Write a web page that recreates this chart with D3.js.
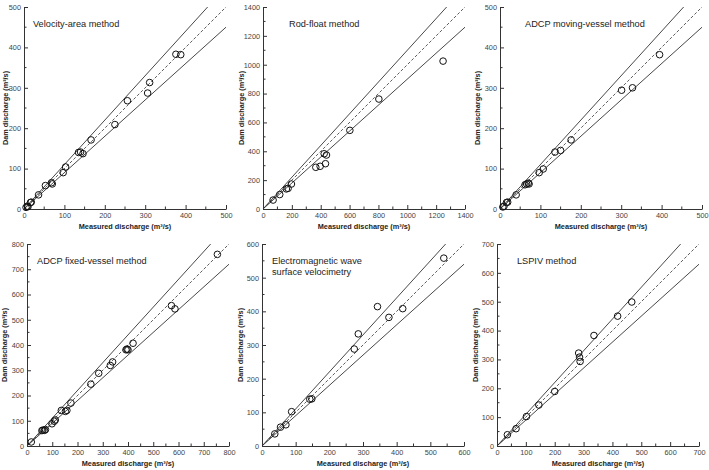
<!DOCTYPE html>
<html>
<head>
<meta charset="utf-8">
<script src="https://cdn.jsdelivr.net/npm/d3@7/dist/d3.min.js"></script>
<style>
  body { margin: 0; background: #fff; }
  svg { display: block; font-family: "Liberation Sans", Arial, sans-serif; }
</style>
</head>
<body>
<div id="chart"></div>
<script>
// panel titles (one entry per line)
const titles = [
    ["Velocity-area method"],
    ["Rod-float method"],
    ["ADCP moving-vessel method"],
    ["ADCP fixed-vessel method"],
    ["Electromagnetic wave", "surface velocimetry"],
    ["LSPIV method"]
];

const axisMax = [500, 1400, 500, 800, 600, 700];
const majorStep = [100, 200, 100, 100, 100, 100];

// [measured, dam] discharge pairs, m3/s
const velocityArea = [
    [5, 4], [8, 7], [10, 6], [16, 16], [18, 17], [36, 35], [53, 58], [68, 65], [70, 62],
    [97, 90], [103, 104], [135, 140], [140, 141], [146, 137], [166, 171], [225, 209],
    [256, 268], [306, 287], [311, 313], [376, 383], [388, 382]
];
const rodFloat = [
    [70, 62], [116, 100], [162, 139], [174, 143], [197, 173], [366, 289], [396, 296],
    [424, 383], [440, 374], [433, 314], [602, 545], [803, 762], [1248, 1025]
];
const adcpMoving = [
    [7, 5], [10, 7], [16, 16], [19, 17], [40, 35], [62, 60], [66, 62], [70, 64], [72, 62],
    [97, 90], [107, 99], [136, 141], [150, 145], [176, 171], [301, 294], [328, 300], [395, 382]
];
const adcpFixed = [
    [17, 16], [59, 61], [63, 63], [69, 62], [73, 65], [99, 88], [108, 98], [112, 103],
    [136, 141], [152, 137], [158, 141], [174, 170], [253, 245], [284, 288], [330, 319],
    [339, 333], [392, 381], [396, 384], [400, 381], [420, 407], [572, 556], [586, 543], [754, 759]
];
const emWave = [
    [38, 36], [55, 56], [71, 63], [88, 102], [142, 139], [148, 140], [274, 288], [286, 333],
    [343, 414], [377, 382], [418, 408], [540, 558]
];
const lspiv = [
    [36, 39], [66, 60], [102, 102], [145, 142], [200, 189], [283, 322], [286, 308],
    [288, 293], [336, 383], [418, 450], [467, 499]
];

const panelData = [velocityArea, rodFloat, adcpMoving, adcpFixed, emWave, lspiv];
const bandFactors = [1.1, 1.0, 0.9];

// panel placement
const layout = [
    { left: 24, top: 7, titleX: 9, labelX: 5 },
    { left: 263, top: 7, titleX: 26, labelX: 241 },
    { left: 500, top: 7, titleX: 25, labelX: 477 },
    { left: 27, top: 244, titleX: 10, labelX: 4 },
    { left: 262, top: 244, titleX: 10, labelX: 240 },
    { left: 497, top: 244, titleX: 20, labelX: 475 }
];
const size = 202;

const svg = d3.select("#chart")
    .append("svg")
    .attr("width", 709)
    .attr("height", 470);

layout.forEach((p, i) => {
    let max = axisMax[i];
    let step = majorStep[i];
    let g = svg.append("g").attr("transform", `translate(${p.left}, ${p.top})`);

    let x = d3.scaleLinear().domain([0, max]).range([0, size]);
    let y = d3.scaleLinear().domain([0, max]).range([size, 0]);

    let major = d3.range(0, max + 1, step);
    let minor = d3.range(step / 2, max, step);

    // axes: ticks point into the plot
    let xAxis = g.append("g").attr("transform", `translate(0, ${size})`);
    xAxis.call(d3.axisBottom(x).tickValues(major).tickFormat(d3.format("d"))
        .tickSizeInner(-4).tickSizeOuter(0).tickPadding(7));
    g.append("g").attr("transform", `translate(0, ${size})`)
        .selectAll("line").data(minor).join("line")
        .attr("x1", d => x(d)).attr("x2", d => x(d))
        .attr("y1", 0).attr("y2", -2.5)
        .attr("stroke", "#333");

    let yAxis = g.append("g");
    yAxis.call(d3.axisLeft(y).tickValues(major).tickFormat(d3.format("d"))
        .tickSizeInner(-4).tickSizeOuter(0).tickPadding(7));
    g.append("g")
        .selectAll("line").data(minor).join("line")
        .attr("x1", 0).attr("x2", 2.5)
        .attr("y1", d => y(d)).attr("y2", d => y(d))
        .attr("stroke", "#333");

    [xAxis, yAxis].forEach(a => {
        a.select(".domain").attr("stroke", "#333");
        a.selectAll(".tick line").attr("stroke", "#333");
        a.selectAll(".tick text")
            .attr("fill", "#444")
            .style("font-size", "7.3px")
            .style("font-family", "'Liberation Sans', Arial, sans-serif");
    });
    yAxis.selectAll(".tick text").attr("x", -3);
    xAxis.selectAll(".tick text").attr("y", 4);

    // 1:1 and +/-10% lines
    bandFactors.forEach(f => {
        let xEnd = Math.min(max, max / f);
        g.append("line")
            .attr("x1", x(0)).attr("y1", y(0))
            .attr("x2", x(xEnd)).attr("y2", y(xEnd * f))
            .attr("stroke", "#333")
            .attr("stroke-width", f === 1 ? 0.8 : 0.9)
            .attr("stroke-dasharray", f === 1 ? "3,2" : null);
    });

    // observations
    g.append("g")
        .selectAll("circle")
        .data(panelData[i])
        .join("circle")
        .attr("cx", d => x(d[0]))
        .attr("cy", d => y(d[1]))
        .attr("r", 3.3)
        .attr("fill", "none")
        .attr("stroke", "#111")
        .attr("stroke-width", 1);

    // title
    g.append("text")
        .attr("x", p.titleX)
        .attr("y", 20)
        .style("font-size", "9.2px")
        .attr("fill", "#222")
        .selectAll("tspan")
        .data(titles[i])
        .join("tspan")
        .attr("x", p.titleX)
        .attr("dy", (d, k) => k === 0 ? 0 : "1.15em")
        .text(d => d);

    // axis labels
    g.append("text")
        .attr("x", size / 2)
        .attr("y", size + 19.5)
        .attr("text-anchor", "middle")
        .style("font-size", "7.3px")
        .style("font-weight", "bold")
        .attr("fill", "#222")
        .text("Measured discharge (m³/s)");

    svg.append("text")
        .attr("transform", `translate(${p.labelX + 2.5}, ${p.top + size / 2}) rotate(-90)`)
        .attr("text-anchor", "middle")
        .style("font-size", "7.3px")
        .style("font-weight", "bold")
        .attr("fill", "#222")
        .text("Dam discharge (m³/s)");
});
</script>
</body>
</html>
